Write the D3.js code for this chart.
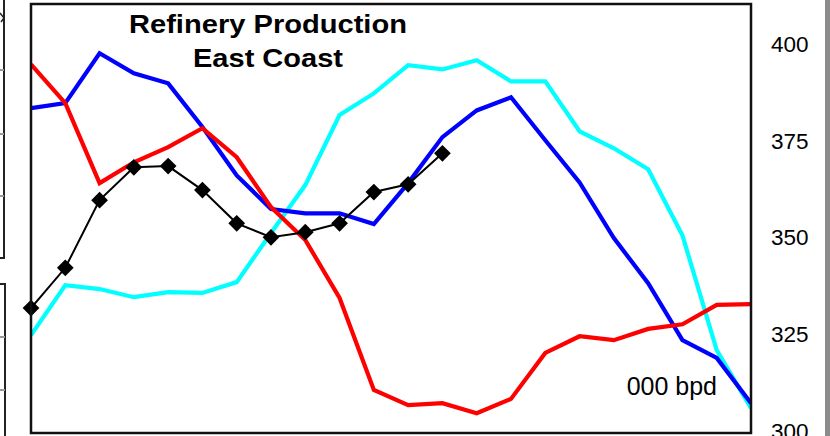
<!DOCTYPE html>
<html><head><meta charset="utf-8">
<script src="https://cdn.jsdelivr.net/npm/d3@7"></script>
<style>html,body{margin:0;padding:0;background:#fff;}svg{display:block;font-family:"Liberation Sans",Arial,sans-serif;}</style>
</head><body>
<svg id="chart" width="830" height="436"></svg>
<script>
const periods = d3.range(22);
const redSeries = [394.8,384.8,364.1,369.5,373.4,378.3,370.8,357.9,349.4,334.4,310.6,306.7,307.2,304.6,308.3,320.2,324.5,323.5,326.4,327.6,332.6,332.8];
const blueSeries = [383.5,384.8,397.7,392.5,389.9,378.6,366.1,357.4,356.3,356.3,353.5,364.1,376.0,382.9,386.3,375.2,364.3,349.9,338.2,323.5,318.9,307.2];
const cyanSeries = [324.8,337.7,336.7,334.6,335.9,335.7,338.5,351.2,363.6,381.7,387.3,394.6,393.5,395.9,390.4,390.4,377.5,373.1,367.7,350.6,320.9,305.9];
const blackSeries = [331.8,342.2,359.7,368.2,368.5,362.3,353.7,350.1,351.4,353.7,361.8,363.8,371.8];
const yTicks = [300,325,350,375,400];
const titleLines = ["Refinery Production","East Coast"];
const unitLabel = "000 bpd";

const svg = d3.select("#chart");
const L = 31, R = 751, T = 4, B = 433;
const x = d3.scaleLinear().domain([0,21]).range([L, R]);
const y = d3.scaleLinear().domain([300,400]).range([431, 44.3]);

// partial neighbouring panels on the left edge
const side = svg.append("g").attr("stroke","#222").attr("fill","none").attr("stroke-width",2);
side.append("path").attr("d","M-2,258 L4,258 L4,-2");
side.append("path").attr("d","M-2,284 L5,284 L5,438");
[70,134,196].forEach(t=>side.append("line").attr("x1",0).attr("x2",4).attr("y1",t).attr("y2",t).attr("stroke","#999"));
[337,390].forEach(t=>side.append("line").attr("x1",0).attr("x2",5).attr("y1",t).attr("y2",t).attr("stroke","#999"));
side.append("path").attr("d","M0,13 L4,18 L1,22").attr("stroke-width",1.5);

// gray bar on right edge
svg.append("rect").attr("x",825).attr("y",0).attr("width",5).attr("height",436).attr("fill","#8c8c8c");

const clip = svg.append("clipPath").attr("id","pc").append("rect")
  .attr("x",L).attr("y",T).attr("width",R-L).attr("height",B-T);

const plot = svg.append("g").attr("clip-path","url(#pc)");
const line = d3.line().x((d,i)=>x(i)).y(d=>y(d));

[[cyanSeries,"#00ffff"],[blueSeries,"#0000ff"],[redSeries,"#ff0000"]].forEach(([s,c])=>{
  plot.append("path").datum(s).attr("d",line).attr("fill","none")
    .attr("stroke",c).attr("stroke-width",4.2).attr("stroke-linejoin","miter");
});
plot.append("path").datum(blackSeries).attr("d",line).attr("fill","none")
  .attr("stroke","#000").attr("stroke-width",2);
svg.append("g").selectAll("path").data(blackSeries).join("path")
  .attr("d", d3.symbol().type(d3.symbolSquare).size(140))
  .attr("transform",(d,i)=>`translate(${x(i)},${y(d)}) rotate(45)`)
  .attr("fill","#000");

// frame
svg.append("rect").attr("x",L).attr("y",T).attr("width",R-L).attr("height",B-T)
  .attr("fill","none").attr("stroke","#111").attr("stroke-width",2.5);

// right axis labels
const axis = d3.axisRight(y).tickValues(yTicks).tickSize(0).tickPadding(0);
const ag = svg.append("g").attr("transform",`translate(771,0)`).call(axis);
ag.select(".domain").remove();
ag.selectAll("text").attr("font-size",22.5).attr("fill","#000")
  .attr("font-family","'Liberation Sans',Arial,sans-serif").attr("x",0).attr("text-anchor","start");

// title
const tw = [278,150];
titleLines.forEach((t,i)=>{
  svg.append("text").attr("x",268).attr("y",33+i*34).attr("text-anchor","middle")
    .attr("font-size",25.5).attr("font-weight","bold").attr("fill","#000")
    .attr("textLength",tw[i]).attr("lengthAdjust","spacingAndGlyphs").text(t);
});

svg.append("text").attr("x",717).attr("y",395).attr("text-anchor","end")
  .attr("font-size",25).attr("fill","#000").text(unitLabel);
</script>
</body></html>
